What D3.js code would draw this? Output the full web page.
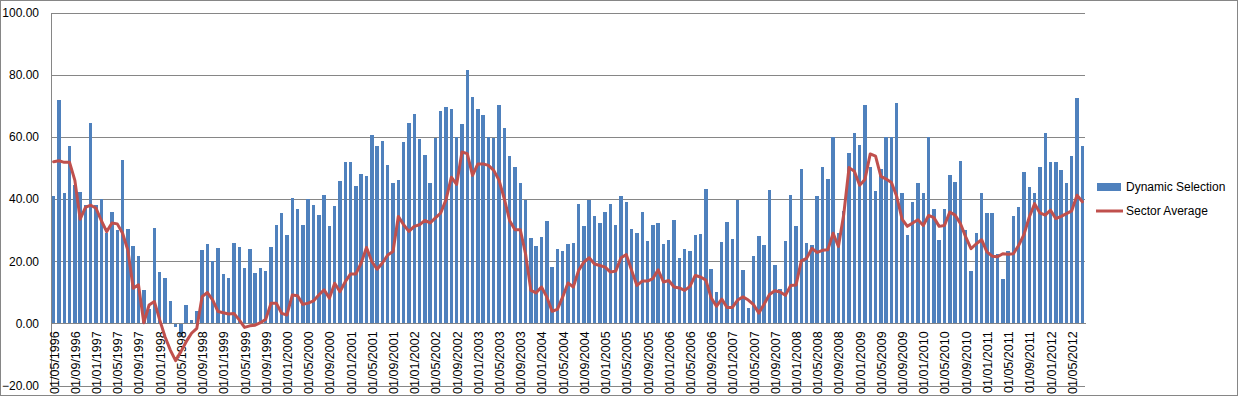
<!DOCTYPE html>
<html>
<head>
<meta charset="utf-8">
<script src="https://cdnjs.cloudflare.com/ajax/libs/d3/7.8.5/d3.min.js"></script>
<style>
  html, body { margin: 0; padding: 0; background: #fff; }
  svg { display: block; }
  text { font-family: "Liberation Sans", Arial, sans-serif; fill: #000; }
</style>
</head>
<body>
<div id="chart"></div>
<script>
let dim = {
    'width': 1239,
    'height': 397,
    'left': 51,
    'right': 1085,
    'top': 12.5,
    'bottom': 385.5
};

// monthly categories, 05/1996 .. 07/2012
let months = d3.timeMonth.range(new Date(1996, 4, 1), new Date(2012, 7, 1));
let categories = months.map(d3.timeFormat('%d/%m/%Y'));
let tickLabels = categories.filter((d, i) => i % 4 === 0);
let yTicks = [-20, 0, 20, 40, 60, 80, 100];

let dynamicSelection = [
    41, 72, 42, 57, 44.4, 42.1, 38.2, 64.3, 38.2, 40, 29.2, 35.9,
    30.1, 52.7, 30.4, 24.9, 21.7, 10.8, 4.6, 30.8, 16.6, 14.6, 7.2, -1.2,
    -4, 5.9, 1.1, 4.0, 23.7, 25.4, 20.0, 24.3, 15.9, 14.6, 25.7, 24.6,
    17.8, 24.0, 16.2, 17.8, 16.9, 24.6, 31.5, 35.6, 28.3, 40.3, 36.9, 31.5,
    40, 38.2, 35, 41.2, 31.2, 37.8, 45.7, 51.8, 51.8, 44.1, 48.2, 47.3,
    60.5, 57.2, 58.8, 50.8, 45.3, 46, 58.2, 64.3, 67.5, 59.2, 54, 45,
    59.5, 68.2, 69.5, 68.8, 59.8, 64, 81.4, 72.7, 69.1, 66.9, 60.1, 59.5,
    70.1, 63, 53.8, 50.2, 45.1, 39.7, 27.6, 25, 27.9, 33, 18, 24,
    23.4, 25.6, 26, 38.4, 31.4, 39.7, 34.6, 32.3, 35.9, 38.4, 31.7, 41,
    39, 30.4, 29.1, 35.9, 26.6, 31.7, 32.3, 25.6, 26.9, 33.3, 20.9, 24,
    23.4, 28.5, 28.6, 43.1, 17.4, 10, 26.1, 32.5, 27, 39.6, 17.1, 5,
    21.6, 28, 25.1, 42.8, 18.7, 10.9, 26.4, 41.2, 31.2, 49.6, 25.8, 25.1,
    40.9, 50.2, 46.4, 59.9, 29, 36, 54.7, 61.2, 57.3, 70.2, 50.2, 42.5,
    49.6, 60.1, 60.1, 70.8, 41.8, 28.3, 38.9, 45.1, 41.8, 60.1, 36.7, 26.7,
    36.7, 47.6, 45.4, 52.1, 29.9, 16.7, 29, 41.8, 35.4, 35.4, 22.2, 14.2,
    23.2, 34.4, 37.3, 48.6, 43.8, 41.8, 50.2, 61.2, 51.8, 51.8, 49.2, 45.1,
    53.8, 72.4, 57
];

let sectorAverage = [
    52, 52.3, 51.8, 51.8, 46, 33.5, 37.3, 38, 37, 33, 29.5, 32.3,
    32, 29, 23.5, 11.3, 12.4, 0.2, 5.9, 7, 1.1, -4.3, -8.6, -12,
    -9.1, -5.9, -3.2, -1.6, 8.6, 9.9, 7.5, 3.8, 3.4, 3, 3.2, 1.1,
    -1.3, -0.8, -0.6, 0.2, 1.3, 6.5, 6.5, 3.2, 2.7, 9.1, 8.9, 6.1,
    6.5, 7.2, 9.1, 10.8, 8.1, 12.9, 10.2, 13.4, 15.9, 15.9, 19.4, 24.4,
    19.9, 17.4, 19.4, 22, 23.1, 34.4, 31.7, 29.6, 31.2, 31.7, 33.1, 32.3,
    33.9, 35.5, 39.8, 47, 44.7, 55.1, 54.6, 47.6, 51.3, 51.3, 50.8, 49.2,
    46, 40, 33, 30.1, 30.1, 22.3, 10.6, 9.8, 11.7, 8.5, 3.9, 4.5,
    8.5, 13, 11.7, 17, 19.7, 21.1, 19.1, 18.6, 18.1, 16.5, 16.8, 21.1,
    22.1, 17, 12.2, 13.6, 13.6, 14.4, 17.2, 13.3, 13.8, 11.7, 11.4, 10.6,
    11.9, 15.4, 14.9, 13.9, 8.2, 5.5, 7.8, 5.1, 5.1, 7.5, 8.5, 7.5,
    6, 3.3, 6.2, 9.3, 10.5, 10.1, 9, 12.2, 12.3, 20.1, 20.9, 24.1,
    22.8, 23.5, 23.7, 29, 24.7, 35, 50.1, 48.9, 44.4, 46.3, 54.5, 53.8,
    47.3, 46.4, 45.3, 40.8, 33.5, 31.2, 32.3, 33.3, 31.5, 34.7, 34, 31.2,
    31.5, 35.8, 34.8, 32.1, 27.8, 24, 25.6, 26.9, 23, 21.6, 21.4, 22.4,
    22.2, 22.4, 25.1, 28.6, 34.2, 38.5, 35.5, 34.8, 36.4, 33.7, 34.4, 35.3,
    36.2, 41.2, 39.1
];

let seriesNames = ['Dynamic Selection', 'Sector Average'];
let colors = ['#4F81BD', '#C0504D'];
let gridColor = '#868686';

let data = categories.map((c, i) => ({
    cat: c,
    bar: dynamicSelection[i],
    avg: sectorAverage[i]
}));

let svg = d3.select('#chart').append('svg')
    .attr('width', dim.width)
    .attr('height', dim.height);

svg.append('rect')
    .attr('x', 0).attr('y', 0)
    .attr('width', dim.width).attr('height', dim.height)
    .attr('fill', '#fff');

let scaleX = d3.scaleBand()
    .domain(categories)
    .range([dim.left, dim.right])
    .paddingInner(0.35)
    .paddingOuter(0.175);

let scaleY = d3.scaleLinear()
    .domain([-20, 100])
    .range([dim.bottom, dim.top]);

// gridlines + y labels
let axisY = svg.append('g')
    .attr('transform', `translate(${dim.left},0)`)
    .call(d3.axisLeft(scaleY)
        .tickValues(yTicks)
        .tickFormat(d3.format('.2f'))
        .tickSize(-(dim.right - dim.left))
        .tickSizeOuter(0)
        .tickPadding(12));

axisY.selectAll('line, path')
    .attr('stroke', gridColor)
    .attr('shape-rendering', 'crispEdges');
axisY.selectAll('text')
    .attr('font-size', 12)
    .attr('fill', '#000');

// bars
svg.append('g').selectAll('rect')
    .data(data)
    .join('rect')
    .attr('x', d => scaleX(d.cat))
    .attr('y', d => Math.min(scaleY(d.bar), scaleY(0)))
    .attr('width', scaleX.bandwidth())
    .attr('height', d => Math.abs(scaleY(d.bar) - scaleY(0)))
    .attr('fill', colors[0])
    .attr('shape-rendering', 'crispEdges');

// category axis sitting at zero
let axisX = svg.append('g')
    .attr('transform', `translate(0,${scaleY(0)})`)
    .call(d3.axisBottom(scaleX)
        .tickValues(tickLabels)
        .tickSize(0)
        .tickSizeOuter(0));

axisX.select('.domain')
    .attr('stroke', gridColor)
    .attr('shape-rendering', 'crispEdges');

axisX.selectAll('text')
    .attr('transform', 'rotate(-90)')
    .attr('x', -8)
    .attr('y', 0)
    .attr('dy', '0.4em')
    .attr('text-anchor', 'end')
    .attr('font-size', 12.5)
    .attr('fill', '#000');

// sector average line
let line = d3.line()
    .x(d => scaleX(d.cat) + scaleX.bandwidth() / 2)
    .y(d => scaleY(d.avg));

svg.append('path')
    .datum(data)
    .attr('d', line)
    .attr('fill', 'none')
    .attr('stroke', colors[1])
    .attr('stroke-width', 3)
    .attr('stroke-linejoin', 'round')
    .attr('stroke-linecap', 'round');

// legend
let legend = svg.append('g');

legend.append('rect')
    .attr('x', 1097).attr('y', 183)
    .attr('width', 24).attr('height', 8)
    .attr('fill', colors[0]);

legend.append('line')
    .attr('x1', 1096).attr('x2', 1123)
    .attr('y1', 211).attr('y2', 211)
    .attr('stroke', colors[1])
    .attr('stroke-width', 3);

legend.selectAll('text')
    .data(seriesNames)
    .join('text')
    .attr('x', 1126)
    .attr('y', (d, i) => i === 0 ? 187 : 211)
    .attr('dy', '0.35em')
    .attr('font-size', 12)
    .text(d => d);

// chart border
svg.append('rect')
    .attr('x', 0.5).attr('y', 0.5)
    .attr('width', dim.width - 2).attr('height', dim.height - 2)
    .attr('fill', 'none')
    .attr('stroke', gridColor);
</script>
</body>
</html>
